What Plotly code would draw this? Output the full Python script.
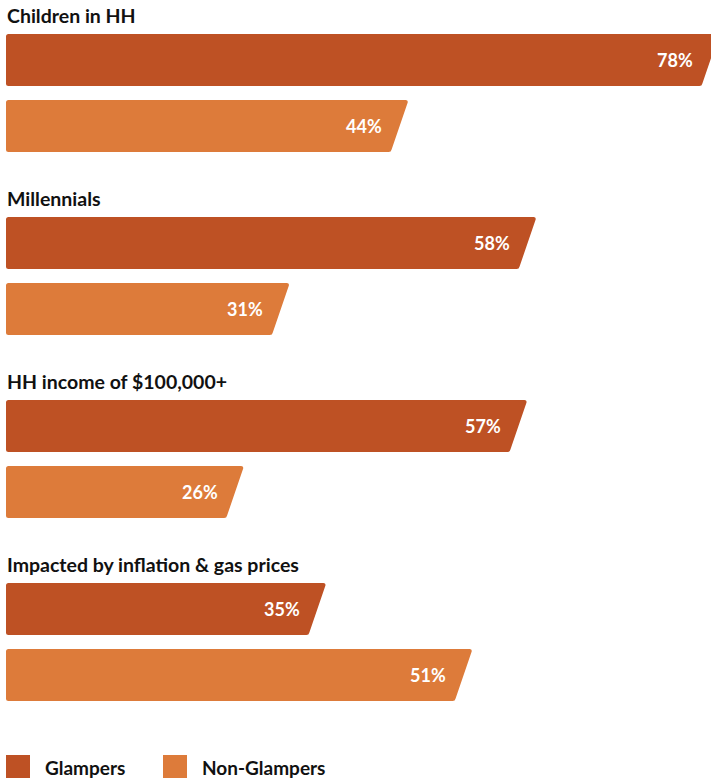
import plotly.graph_objects as go

categories = ["Children in HH", "Millennials", "HH income of $100,000+", "Impacted by inflation & gas prices"]
series_names = ["Glampers", "Non-Glampers"]
glampers = [78, 58, 57, 35]
non_glampers = [44, 31, 26, 51]
colors = ["#BE5124", "#DD7B3A"]

W, H = 711, 779
LEFT_PX = 6
PX_PER_UNIT = 9.14
x_min = -LEFT_PX / PX_PER_UNIT
x_max = (W - LEFT_PX) / PX_PER_UNIT

GROUP_TOP0 = 34
GROUP_STEP = 183
BAR_H = 52
BAR_STEP = 66
SLANT = 17 / PX_PER_UNIT
R_X = 2.5 / PX_PER_UNIT
R_Y = 2.5

fig = go.Figure()
shapes = []
annotations = []

for i, cat in enumerate(categories):
    top0 = GROUP_TOP0 + GROUP_STEP * i
    annotations.append(dict(x=-1.5 / PX_PER_UNIT, y=top0 - 19, xref="x", yref="y", text=f"<b>{cat}</b>",
                            showarrow=False, xanchor="left", yanchor="middle",
                            font=dict(family="Lato", size=19.5, color="#111111")))
    for j, vals in enumerate([glampers, non_glampers]):
        v = vals[i]
        y0 = top0 + BAR_STEP * j
        y1 = y0 + BAR_H
        path = (f"M {R_X},{y0} L {v - R_X},{y0} Q {v},{y0} {v - 0.05},{y0 + R_Y} "
                f"L {v - SLANT + 0.05},{y1 - R_Y} Q {v - SLANT},{y1} {v - SLANT - R_X},{y1} "
                f"L {R_X},{y1} Q 0,{y1} 0,{y1 - R_Y} L 0,{y0 + R_Y} Q 0,{y0} {R_X},{y0} Z")
        shapes.append(dict(type="path", path=path, xref="x", yref="y",
                           fillcolor=colors[j], line=dict(width=0), layer="below"))
        annotations.append(dict(x=v - 24 / PX_PER_UNIT, y=(y0 + y1) / 2, xref="x", yref="y",
                                text=f"<b>{v}%</b>", showarrow=False, xanchor="right",
                                yanchor="middle", font=dict(family="Lato", size=18, color="white")))

# legend
legend_x = [0, 157 / PX_PER_UNIT]
for k, name in enumerate(series_names):
    lx = legend_x[k]
    shapes.append(dict(type="rect", xref="x", yref="y", x0=lx, x1=lx + 24 / PX_PER_UNIT,
                       y0=755, y1=778, fillcolor=colors[k], line=dict(width=0)))
    annotations.append(dict(x=lx + 37 / PX_PER_UNIT, y=767, xref="x", yref="y",
                            text=f"<b>{name}</b>", showarrow=False, xanchor="left",
                            yanchor="middle", font=dict(family="Lato", size=19, color="#111111")))

fig.update_layout(
    width=W, height=H,
    margin=dict(l=0, r=0, t=0, b=0),
    paper_bgcolor="white", plot_bgcolor="white",
    xaxis=dict(range=[x_min, x_max], visible=False, fixedrange=True),
    yaxis=dict(range=[H, 0], visible=False, fixedrange=True),
    shapes=shapes, annotations=annotations, showlegend=False,
)
fig.write_html("out.html", config={"displayModeBar": False},
               post_script="document.body.style.margin='0';document.body.style.overflow='hidden';")
